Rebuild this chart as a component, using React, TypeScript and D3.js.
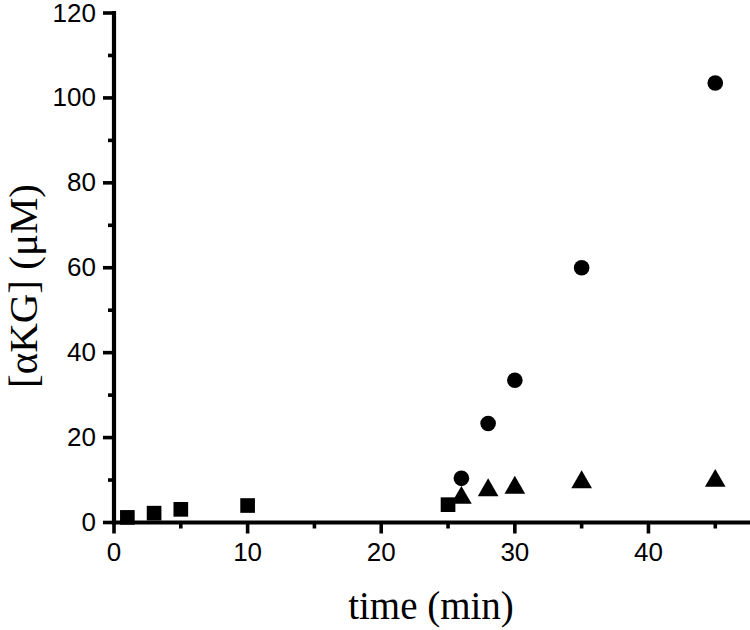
import React, { useRef, useEffect } from 'react';
import * as d3 from 'd3';

// time (min) and [aKG] (uM)
const squareTime = [1, 3, 5, 10, 25];
const squareConc = [1.2, 2.2, 3.1, 4.0, 4.2];
const circleTime = [26, 28, 30, 35, 45];
const circleConc = [10.4, 23.3, 33.5, 60.0, 103.5];
const triangleTime = [26, 28, 30, 35, 45];
const triangleConc = [5.8, 7.6, 8.2, 9.5, 9.8];

const xTicks = [0, 10, 20, 30, 40];
const xMinorTicks = [5, 15, 25, 35, 45];
const yTicks = [0, 20, 40, 60, 80, 100, 120];
const yMinorTicks = [10, 30, 50, 70, 90, 110];

function App() {
  const svgRef = useRef<SVGSVGElement>(null);
  const width = 750;
  const height = 630;

  useEffect(() => {
    const svg = d3.select(svgRef.current);
    svg.selectAll('*').remove();

    const x = d3.scaleLinear().domain([0, 47.6]).range([114, 750]);
    const y = d3.scaleLinear().domain([0, 120]).range([522.5, 13]);

    const axisColor = '#000';

    // axis lines
    svg.append('line')
      .attr('x1', x(0) - 2).attr('x2', 750)
      .attr('y1', y(0)).attr('y2', y(0))
      .attr('stroke', axisColor).attr('stroke-width', 4.2);
    svg.append('line')
      .attr('x1', x(0)).attr('x2', x(0))
      .attr('y1', y(0) + 2).attr('y2', y(120) - 2)
      .attr('stroke', axisColor).attr('stroke-width', 4.2);

    // x ticks
    svg.selectAll('.xmaj').data(xTicks).enter().append('line')
      .attr('x1', d => x(d)).attr('x2', d => x(d))
      .attr('y1', y(0)).attr('y2', y(0) + 11)
      .attr('stroke', axisColor).attr('stroke-width', 3.6);
    svg.selectAll('.xmin').data(xMinorTicks).enter().append('line')
      .attr('x1', d => x(d)).attr('x2', d => x(d))
      .attr('y1', y(0)).attr('y2', y(0) + 6)
      .attr('stroke', axisColor).attr('stroke-width', 3.6);
    svg.selectAll('.xlab').data(xTicks).enter().append('text')
      .attr('x', d => x(d)).attr('y', 561)
      .attr('text-anchor', 'middle')
      .style('font-family', 'Liberation Sans, Arial, sans-serif')
      .style('font-size', '26px')
      .text(d => d);

    // y ticks
    svg.selectAll('.ymaj').data(yTicks).enter().append('line')
      .attr('x1', x(0) - 11).attr('x2', x(0))
      .attr('y1', d => y(d)).attr('y2', d => y(d))
      .attr('stroke', axisColor).attr('stroke-width', 3.6);
    svg.selectAll('.ymin').data(yMinorTicks).enter().append('line')
      .attr('x1', x(0) - 6).attr('x2', x(0))
      .attr('y1', d => y(d)).attr('y2', d => y(d))
      .attr('stroke', axisColor).attr('stroke-width', 3.6);
    svg.selectAll('.ylab').data(yTicks).enter().append('text')
      .attr('x', 96).attr('y', d => y(d) + 8.5)
      .attr('text-anchor', 'end')
      .style('font-family', 'Liberation Sans, Arial, sans-serif')
      .style('font-size', '26px')
      .text(d => d);

    // axis titles
    svg.append('text')
      .attr('x', 431).attr('y', 619)
      .attr('text-anchor', 'middle')
      .style('font-family', 'Liberation Serif, Times New Roman, serif')
      .style('font-size', '39px')
      .text('time (min)');
    svg.append('text')
      .attr('transform', 'translate(37,286) rotate(-90)')
      .attr('text-anchor', 'middle')
      .style('font-family', 'Liberation Serif, Times New Roman, serif')
      .style('font-size', '41px')
      .text('[αKG] (μM)');

    // squares
    const sq = d3.symbol().type(d3.symbolSquare).size(215);
    svg.selectAll('.sq').data(squareTime).enter().append('path')
      .attr('d', sq)
      .attr('transform', (d, i) => `translate(${x(d)},${y(squareConc[i])})`)
      .attr('fill', '#000');

    // circles
    svg.selectAll('.ci').data(circleTime).enter().append('circle')
      .attr('cx', d => x(d))
      .attr('cy', (d, i) => y(circleConc[i]))
      .attr('r', 7.8)
      .attr('fill', '#000');

    // triangles
    const tri = d3.symbol().type(d3.symbolTriangle).size(185);
    svg.selectAll('.tr').data(triangleTime).enter().append('path')
      .attr('d', tri)
      .attr('transform', (d, i) => `translate(${x(d)},${y(triangleConc[i])})`)
      .attr('fill', '#000');
  }, []);

  return (
    <svg
      ref={svgRef}
      width={width}
      height={height}
      style={{ position: 'absolute', left: 0, top: 0, background: '#fff' }}
    />
  );
}

export default App;
